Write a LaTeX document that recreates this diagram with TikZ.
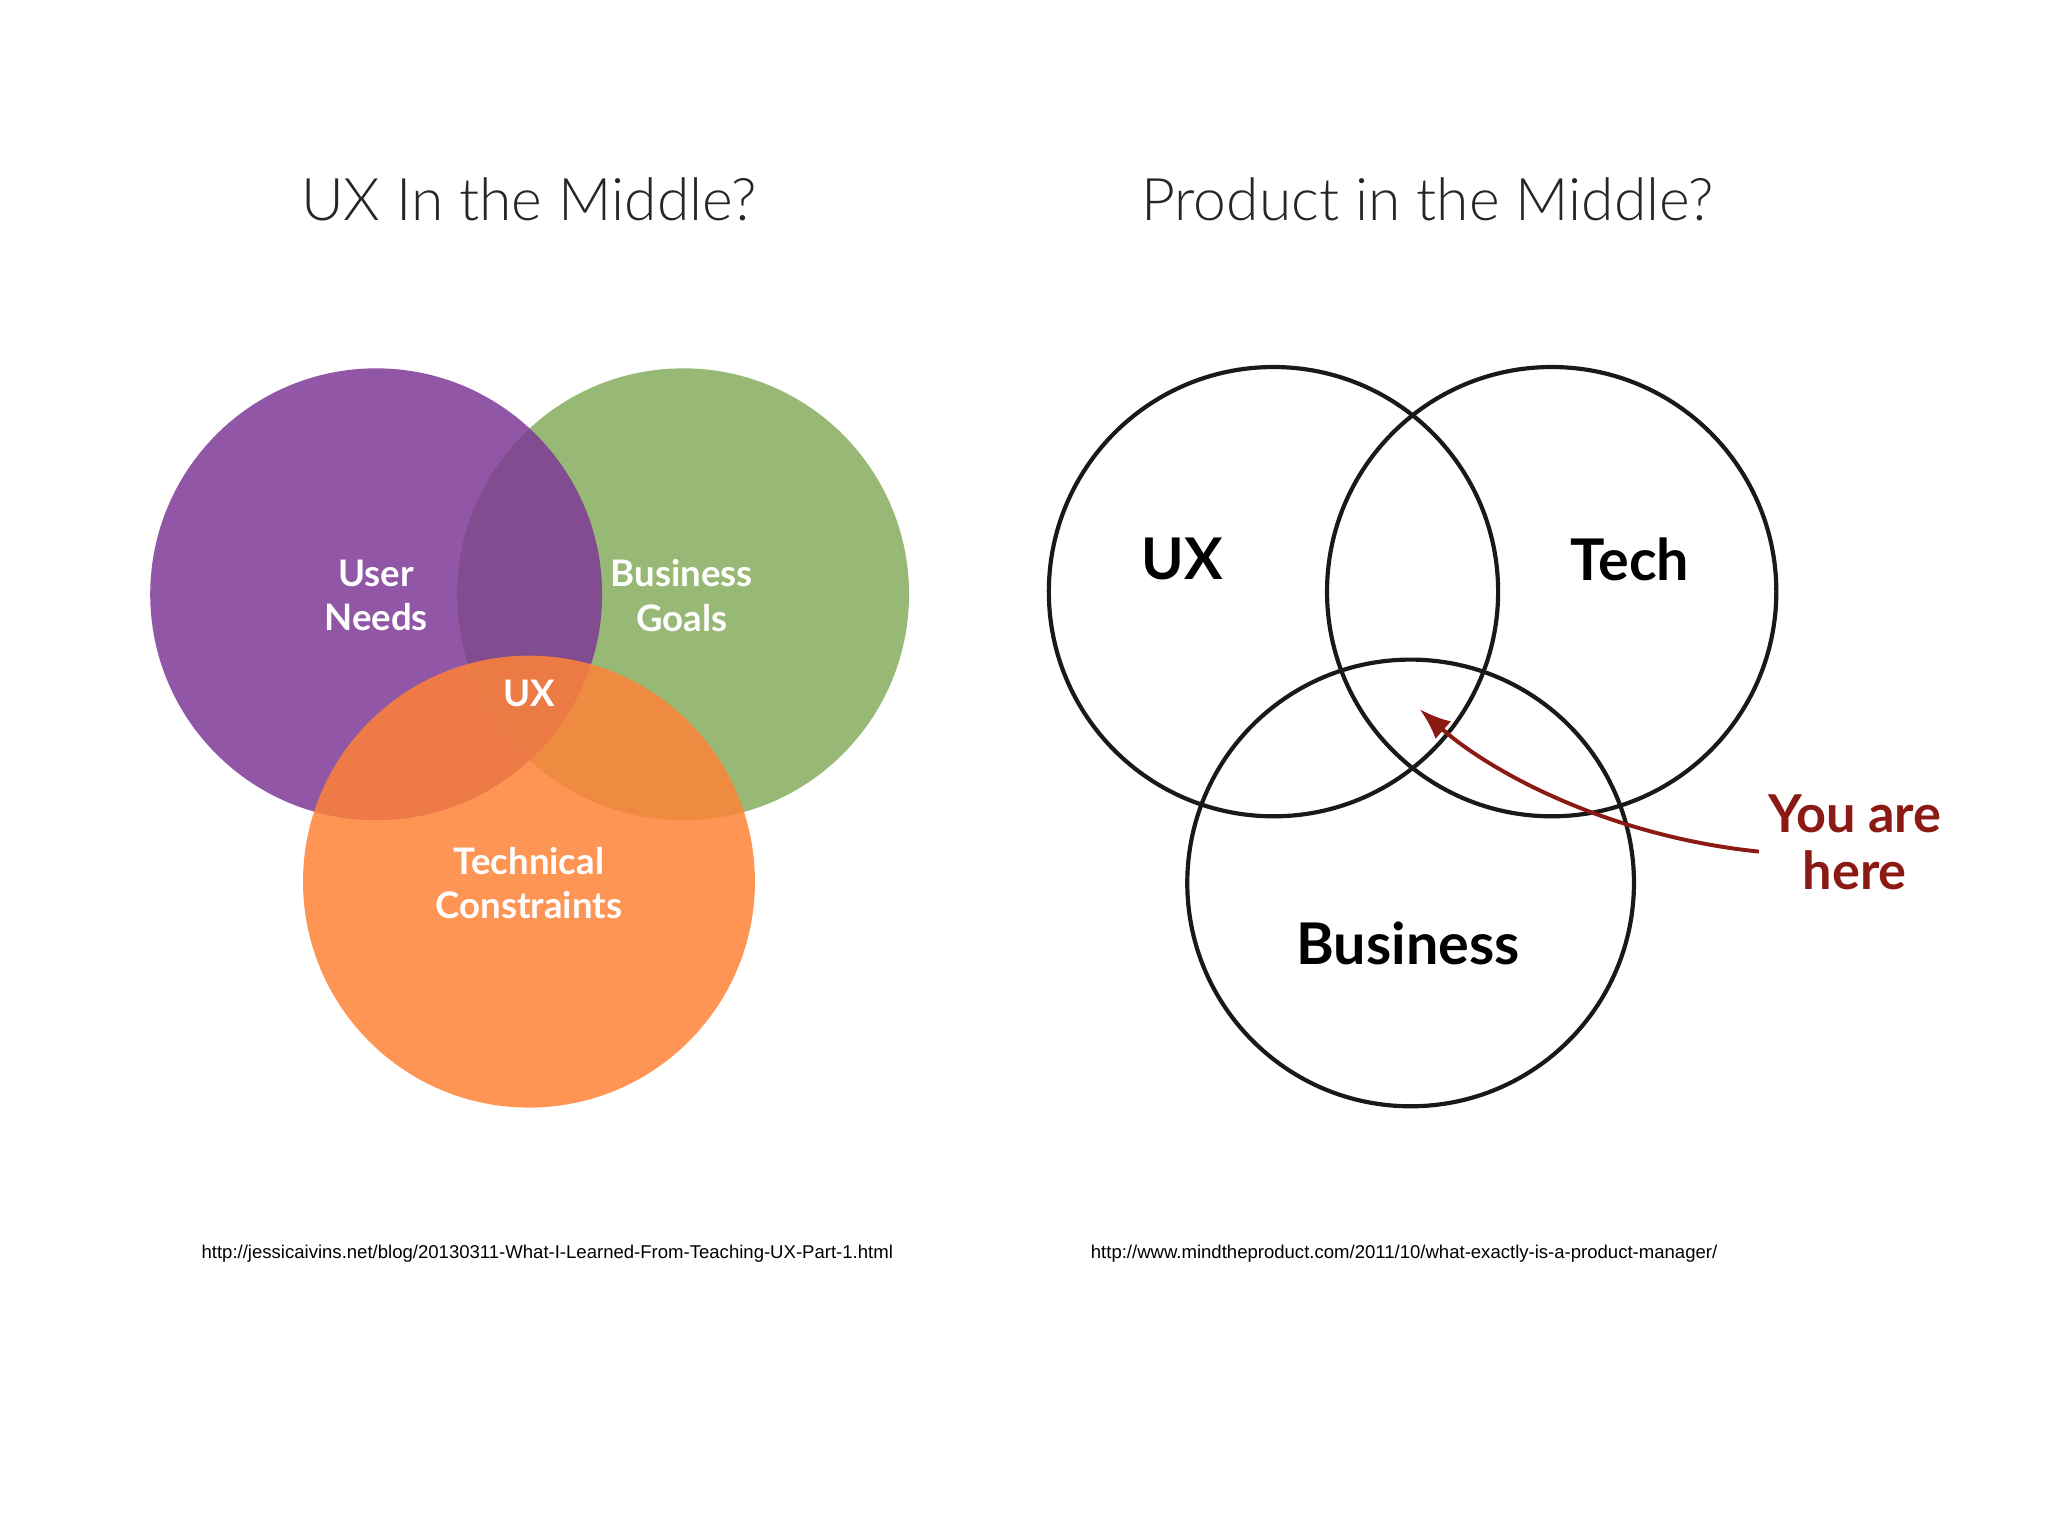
\documentclass[tikz,border=0pt]{standalone}
\usepackage{fontspec}
\setmainfont{Lato}
\newfontfamily\lightfont{Lato Light}
\newfontfamily\urlfont{Liberation Sans}
\usetikzlibrary{arrows.meta}
\definecolor{cpurple}{HTML}{7E3A96}
\definecolor{cgreen}{HTML}{86AD5E}
\definecolor{corange}{HTML}{FF8237}
\definecolor{cred}{HTML}{8B1A14}
\tikzset{
  vlab/.style={text=white,font=\bfseries\fontsize{14}{17}\selectfont,align=center},
  title/.style={font=\lightfont\fontsize{22.5}{26}\selectfont,text=black!85},
  hand/.style={font=\bfseries\fontsize{22}{24}\selectfont},
  ring/.style={draw=black!90,line width=1.6pt},
  src/.style={font=\urlfont\fontsize{7.1}{9}\selectfont}
}
\begin{document}
\begin{tikzpicture}[x=0.5pt,y=-0.5pt]
\useasboundingbox (0,0) rectangle (1568,1176);
\node[title] (t1) at (405,153) {UX In the Middle?};
\node[title] (t2) at (1093,153) {Product in the Middle?};
\fill[cgreen,fill opacity=0.85] (523,455) circle (173);
\fill[cpurple,fill opacity=0.85] (288,455) circle (173);
\fill[corange,fill opacity=0.85] (405,675) circle (173);
\node[vlab] (un) at (288,456) {User\\Needs};
\node[vlab] (bg) at (522,456) {Business\\Goals};
\node[vlab] (ux) at (405,531) {UX};
\node[vlab] (tc) at (405,676) {Technical\\Constraints};
\draw[ring] (975,453) circle (172);
\draw[ring] (1188,453) circle (172);
\draw[ring] (1080,676) circle (171);
\node[hand] (hux) at (905,428) {UX};
\node[hand] (htech) at (1248,428) {Tech};
\node[hand] (hbus) at (1078,722) {Business};
\node[hand,text=cred,align=center,font=\bfseries\fontsize{20}{22}\selectfont] (here) at (1420,645) {You are\\here};
\coordinate (tip) at (1087,543);
\draw[cred,line width=1.5pt,-{Latex[length=12pt,width=9pt]}] (here.west |- 0,652) .. controls (1230,640) and (1140,590) .. (tip);
\node[src] (s1) at (419,960) {http://jessicaivins.net/blog/20130311-What-I-Learned-From-Teaching-UX-Part-1.html};
\node[src] (s2) at (1075,960) {http://www.mindtheproduct.com/2011/10/what-exactly-is-a-product-manager/};
\end{tikzpicture}
\end{document}
